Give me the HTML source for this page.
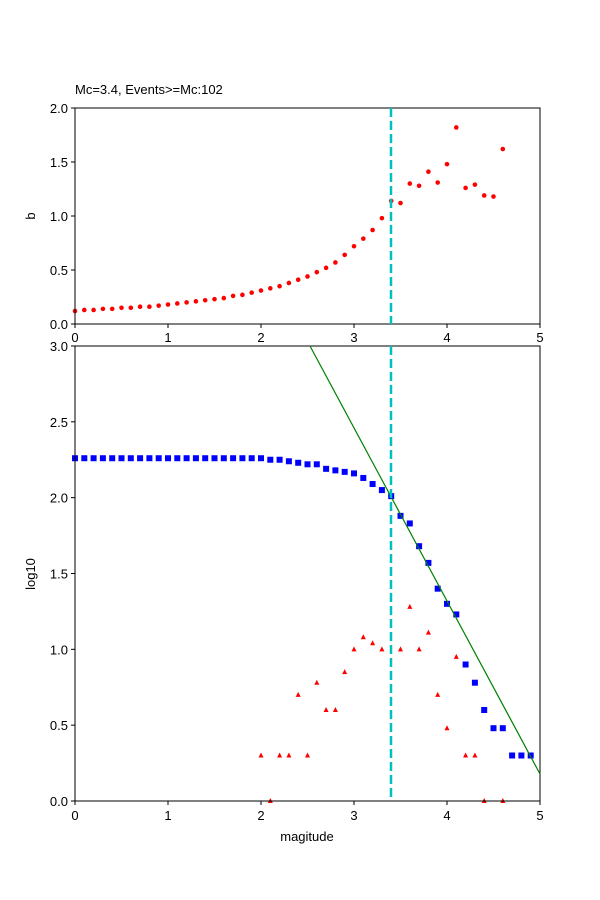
<!DOCTYPE html>
<html><head><meta charset="utf-8"><style>body{margin:0;background:#fff}svg{display:block}text{font-family:"Liberation Sans","DejaVu Sans",sans-serif;font-size:13px;fill:#000}</style></head>
<body>
<svg id="s" width="600" height="900" xmlns="http://www.w3.org/2000/svg">
<rect width="600" height="900" fill="#fff"/>
<text x="75" y="94">Mc=3.4, Events&gt;=Mc:102</text>
<g id="top"></g><g id="bot"></g>
<rect x="75" y="108" width="465" height="216" fill="none" stroke="#000" stroke-width="1"/>
<rect x="75" y="346" width="465" height="455" fill="none" stroke="#000" stroke-width="1"/>
<line x1="310" y1="346" x2="540" y2="774" stroke="green" stroke-width="1.2"/>
<line x1="391" y1="108" x2="391" y2="324" stroke="#00bfbf" stroke-width="2.5" stroke-dasharray="9,4"/>
<line x1="391" y1="346" x2="391" y2="801" stroke="#00bfbf" stroke-width="2.5" stroke-dasharray="9,4"/>
<g id="ax"></g>
<text x="0" y="0" transform="translate(35,216) rotate(-90)" text-anchor="middle">b</text>
<text x="0" y="0" transform="translate(35,574) rotate(-90)" text-anchor="middle">log10</text>
<text x="307" y="841" text-anchor="middle">magitude</text>
</svg>
<script>
var NS="http://www.w3.org/2000/svg";
function el(p,t,a){var e=document.createElementNS(NS,t);for(var k in a)e.setAttribute(k,a[k]);document.getElementById(p).appendChild(e);return e;}
var X=function(m){return 75+93*m;};
var b=[0.12,0.13,0.13,0.14,0.14,0.15,0.15,0.16,0.16,0.17,0.18,0.19,0.2,0.21,0.22,0.23,0.24,0.26,0.27,0.29,0.31,0.33,0.35,0.38,0.41,0.44,0.48,0.52,0.57,0.64,0.72,0.79,0.87,0.98,1.14,1.12,1.3,1.28,1.41,1.31,1.48,1.82,1.26,1.29,1.19,1.18,1.62];
b.forEach(function(v,i){el("top","circle",{cx:X(i/10),cy:324-108*v,r:2.3,fill:"red"});});
var Y=function(v){return 801-151.67*v;};
var bl=[];for(var i=0;i<=20;i++)bl.push(2.26);
bl=bl.concat([2.25,2.25,2.24,2.23,2.22,2.22,2.19,2.18,2.17,2.16,2.13,2.09,2.05,2.01,1.88,1.83,1.68,1.57,1.40,1.30,1.23,0.90,0.78,0.60,0.48,0.48,0.30,0.30,0.30]);
bl.forEach(function(v,i){el("bot","rect",{x:X(i/10)-3,y:Y(v)-3,width:6,height:6,fill:"blue"});});
var tr=[[2.0,0.3],[2.1,0],[2.2,0.3],[2.3,0.3],[2.4,0.7],[2.5,0.3],[2.6,0.78],[2.7,0.6],[2.8,0.6],[2.9,0.85],[3.0,1.0],[3.1,1.08],[3.2,1.04],[3.3,1.0],[3.5,1.0],[3.6,1.28],[3.7,1.0],[3.8,1.11],[3.9,0.7],[4.0,0.48],[4.1,0.95],[4.2,0.3],[4.3,0.3],[4.4,0],[4.6,0]];
tr.forEach(function(p){var x=X(p[0]),y=Y(p[1]);el("bot","polygon",{points:(x-2.5)+","+(y+2)+" "+(x+2.5)+","+(y+2)+" "+x+","+(y-3),fill:"red"});});
for(var m=0;m<=5;m++){var x=X(m);
 el("ax","line",{x1:x,y1:324,x2:x,y2:328,stroke:"#000"});
 el("ax","line",{x1:x,y1:801,x2:x,y2:805,stroke:"#000"});
 var t=el("ax","text",{x:x,y:342,"text-anchor":"middle"});t.textContent=m;
 t=el("ax","text",{x:x,y:820,"text-anchor":"middle"});t.textContent=m;}
for(var k=0;k<=4;k++){var v=k*0.5,y=324-108*v;
 el("ax","line",{x1:71,y1:y,x2:75,y2:y,stroke:"#000"});
 var t=el("ax","text",{x:68,y:y+5,"text-anchor":"end"});t.textContent=v.toFixed(1);}
for(var k=0;k<=6;k++){var v=k*0.5,y=Y(v);
 el("ax","line",{x1:71,y1:y,x2:75,y2:y,stroke:"#000"});
 var t=el("ax","text",{x:68,y:y+5,"text-anchor":"end"});t.textContent=v.toFixed(1);}
</script>
</body></html>
